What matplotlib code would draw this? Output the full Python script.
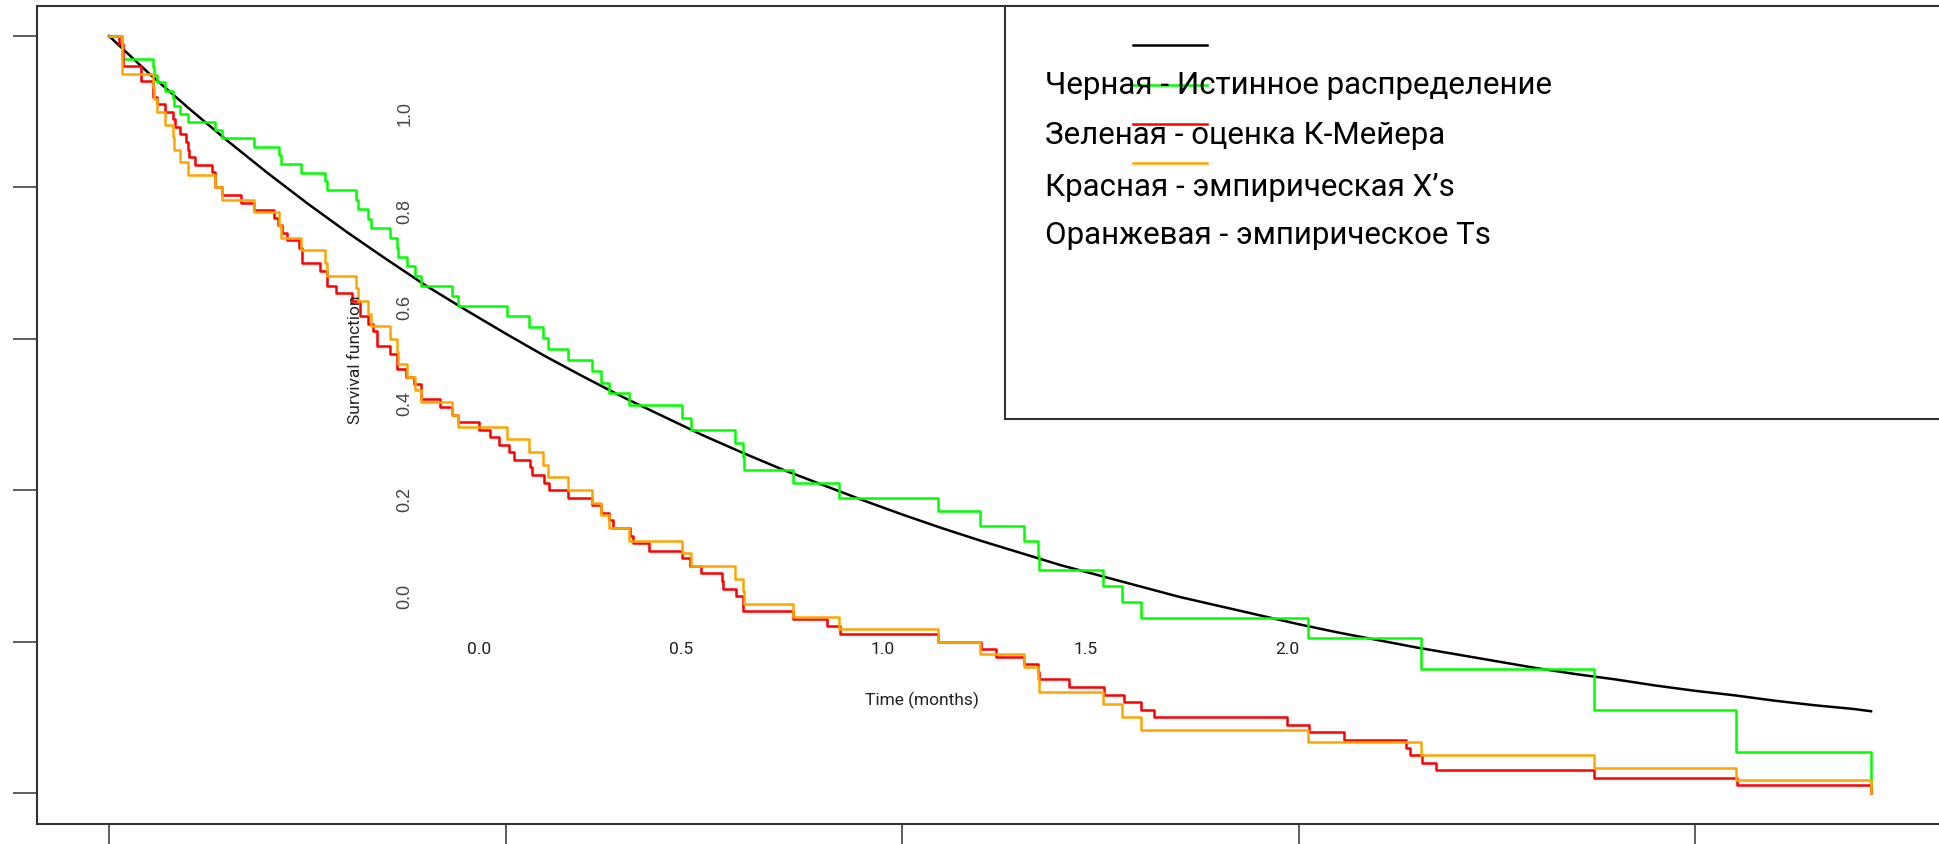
import matplotlib.pyplot as plt

W, H = 1939, 844

# истинная функция выживания (снята по точкам)
true_t = [0.00, 0.05, 0.10, 0.15, 0.20, 0.25, 0.30, 0.35, 0.40, 0.45,
          0.50, 0.55, 0.60, 0.65, 0.70, 0.75, 0.80, 0.85, 0.90, 0.95,
          1.00, 1.05, 1.10, 1.15, 1.20, 1.25, 1.30, 1.35, 1.40, 1.45,
          1.50, 1.55, 1.60, 1.65, 1.70, 1.75, 1.80, 1.85, 1.90, 1.95,
          2.00, 2.05, 2.10, 2.15, 2.20, 2.222]
true_s = [1.000, 0.951, 0.905, 0.861, 0.819, 0.779, 0.741, 0.705, 0.670, 0.638,
          0.607, 0.577, 0.549, 0.522, 0.497, 0.472, 0.449, 0.427, 0.407, 0.387,
          0.368, 0.350, 0.333, 0.317, 0.301, 0.287, 0.273, 0.259, 0.247, 0.235,
          0.223, 0.212, 0.202, 0.192, 0.183, 0.174, 0.165, 0.157, 0.150, 0.142,
          0.135, 0.129, 0.122, 0.116, 0.111, 0.108]

# моменты T (общие для К-М и эмпирической по Ts)
km_t = [0.017, 0.055, 0.057, 0.061, 0.071, 0.081, 0.082, 0.090, 0.099, 0.134,
        0.142, 0.183, 0.214, 0.217, 0.242, 0.273, 0.275, 0.311, 0.314, 0.326,
        0.330, 0.354, 0.363, 0.365, 0.376, 0.386, 0.394, 0.432, 0.440, 0.502,
        0.530, 0.547, 0.553, 0.579, 0.609, 0.620, 0.630, 0.656, 0.723, 0.734,
        0.789, 0.799, 0.801, 0.863, 0.921, 1.045, 1.098, 1.154, 1.171, 1.173,
        1.253, 1.278, 1.302, 1.512, 1.654, 1.873, 2.052, 2.222]
km_s = [0.969, 0.959, 0.948, 0.939, 0.928, 0.918, 0.908, 0.897, 0.887, 0.876,
        0.865, 0.854, 0.843, 0.831, 0.819, 0.808, 0.796, 0.783, 0.771, 0.758,
        0.746, 0.733, 0.720, 0.708, 0.696, 0.683, 0.670, 0.657, 0.643, 0.630,
        0.615, 0.601, 0.587, 0.572, 0.557, 0.542, 0.528, 0.513, 0.496, 0.480,
        0.463, 0.444, 0.427, 0.409, 0.390, 0.372, 0.353, 0.333, 0.313, 0.294,
        0.273, 0.252, 0.231, 0.205, 0.164, 0.109, 0.054, 0.0]
ts_s = [0.950, 0.933, 0.917, 0.900, 0.883, 0.867, 0.850, 0.833, 0.817, 0.800,
        0.783, 0.767, 0.750, 0.733, 0.717, 0.700, 0.683, 0.667, 0.650, 0.633,
        0.617, 0.600, 0.583, 0.567, 0.550, 0.533, 0.517, 0.500, 0.483, 0.467,
        0.450, 0.433, 0.417, 0.400, 0.383, 0.367, 0.350, 0.333, 0.317, 0.300,
        0.283, 0.267, 0.250, 0.233, 0.217, 0.200, 0.183, 0.167, 0.150, 0.133,
        0.117, 0.100, 0.083, 0.067, 0.050, 0.033, 0.017, 0.0]

# эмпирическая по X's
x_t = [0.012, 0.018, 0.040, 0.056, 0.061, 0.070, 0.081, 0.083, 0.090, 0.097,
       0.099, 0.101, 0.108, 0.130, 0.134, 0.143, 0.166, 0.183, 0.208, 0.213,
       0.218, 0.224, 0.240, 0.244, 0.266, 0.275, 0.286, 0.306, 0.316, 0.326,
       0.333, 0.338, 0.354, 0.363, 0.375, 0.385, 0.393, 0.417, 0.433, 0.440,
       0.466, 0.480, 0.492, 0.504, 0.511, 0.531, 0.533, 0.549, 0.555, 0.579,
       0.609, 0.621, 0.630, 0.635, 0.657, 0.661, 0.681, 0.723, 0.733, 0.747,
       0.773, 0.774, 0.791, 0.799, 0.863, 0.905, 0.922, 1.045, 1.100, 1.119,
       1.154, 1.171, 1.173, 1.211, 1.255, 1.280, 1.302, 1.318, 1.486, 1.513,
       1.558, 1.636, 1.641, 1.656, 1.673, 1.873, 2.053, 2.222]
x_s = [0.99, 0.96, 0.94, 0.92, 0.91, 0.90, 0.89, 0.88, 0.87, 0.86,
       0.85, 0.84, 0.83, 0.82, 0.80, 0.79, 0.78, 0.77, 0.76, 0.75,
       0.74, 0.73, 0.72, 0.70, 0.69, 0.67, 0.66, 0.65, 0.63, 0.62,
       0.61, 0.59, 0.58, 0.56, 0.55, 0.54, 0.52, 0.51, 0.50, 0.49,
       0.48, 0.47, 0.46, 0.45, 0.44, 0.43, 0.42, 0.41, 0.40, 0.39,
       0.38, 0.37, 0.36, 0.35, 0.34, 0.33, 0.32, 0.31, 0.30, 0.29,
       0.28, 0.27, 0.26, 0.24, 0.23, 0.22, 0.21, 0.20, 0.19, 0.18,
       0.17, 0.16, 0.15, 0.14, 0.13, 0.12, 0.11, 0.10, 0.09, 0.08,
       0.07, 0.06, 0.05, 0.04, 0.03, 0.02, 0.01, 0.0]

x_ticks = [0.0, 0.5, 1.0, 1.5, 2.0]
y_ticks = [0.0, 0.2, 0.4, 0.6, 0.8, 1.0]
x_ticklabels = ['0.0', '0.5', '1.0', '1.5', '2.0']
y_ticklabels = ['0.0', '0.2', '0.4', '0.6', '0.8', '1.0']

legend_labels = ['Черная - Истинное распределение',
                 'Зеленая - оценка К-Мейера',
                 'Красная - эмпирическая X\u2019s',
                 'Оранжевая - эмпирическое Ts']
legend_colors = ['black', '#00ff00', 'red', 'orange']

frame_col = '#333333'


def px(x, y):
    # пиксели -> доли фигуры
    return x / W, 1 - y / H


fig = plt.figure(figsize=(W / 100, H / 100), dpi=100)

ax = fig.add_axes([37 / W, 20 / H, (W - 37) / W, (824 - 6) / H])
ax.set_xlim(-72 / 793, 1830 / 793)
ax.set_ylim(-31 / 757, 787 / 757)

ax.plot(true_t, true_s, color='black', lw=1.8)
ax.step([0] + km_t, [1.0] + km_s, where='post', color='#00ff00', lw=1.8)
ax.step([0] + x_t, [1.0] + x_s, where='post', color='red', lw=1.8)
ax.step([0] + km_t, [1.0] + ts_s, where='post', color='orange', lw=1.8)

ax.spines['right'].set_visible(False)
for s in ['left', 'top', 'bottom']:
    ax.spines[s].set_color(frame_col)
    ax.spines[s].set_linewidth(1.5)
ax.set_xticks(x_ticks)
ax.set_yticks(y_ticks)
ax.tick_params(axis='y', direction='out', length=17, width=1.1,
               color=frame_col, labelleft=False)
ax.tick_params(axis='x', direction='out', length=14.5, width=1.1,
               color=frame_col, labelbottom=False)

# подписи осей, сдвинутые внутрь поля
lab_font = ['Roboto', 'DejaVu Sans']
for lab, xp in zip(x_ticklabels, [479, 681, 883, 1086, 1287]):
    fig.text(*px(xp, 650), lab, ha='center', va='center', fontsize=12.5,
             family=lab_font, color='#222222')
for lab, yp in zip(y_ticklabels, [596, 500, 403, 307, 212, 113]):
    fig.text(*px(405, yp), lab, ha='center', va='center', rotation=90,
             fontsize=13, family=['Liberation Sans', 'DejaVu Sans'],
             color='#444444')
fig.text(*px(922, 700), 'Time (months)', ha='center', va='center',
         fontsize=12.5, family=lab_font, color='#222222')
fig.text(*px(355, 360), 'Survival function', ha='center', va='center',
         rotation=90, fontsize=12.5, family=lab_font, color='#222222')

# легенда в рамке
lax = fig.add_axes([1005 / W, (H - 419) / H, (W - 1005) / W, (419 - 6) / H])
lax.set_xlim(0, W - 1005)
lax.set_ylim(413, 0)
lax.set_xticks([])
lax.set_yticks([])
lax.spines['right'].set_visible(False)
for s in ['left', 'top', 'bottom']:
    lax.spines[s].set_color(frame_col)
    lax.spines[s].set_linewidth(1.5)

for col, yl in zip(legend_colors, [39, 79, 118, 157]):
    lax.plot([128, 202], [yl, yl], color=col, lw=1.8)
for lab, yt in zip(legend_labels, [80, 129, 182, 230]):
    lax.text(40, yt, lab, ha='left', va='center', fontsize=22.5,
             family=['Roboto', 'DejaVu Sans'], color='black')

fig.savefig('out.png', dpi=100)
